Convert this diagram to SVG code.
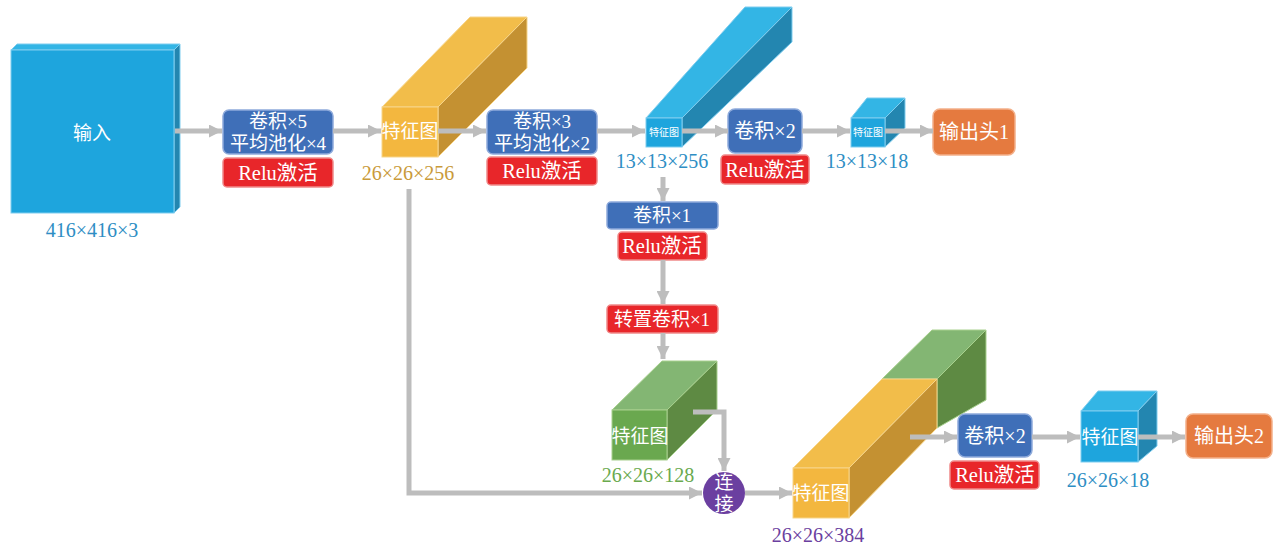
<svg xmlns="http://www.w3.org/2000/svg" width="1276" height="547" viewBox="0 0 1276 547">
<defs>
<marker id="ah" viewBox="0 0 10 10" markerWidth="13" markerHeight="13" markerUnits="userSpaceOnUse" refX="10" refY="5" orient="auto">
<path d="M0,0 L10,5 L0,10 z" fill="#bdbdbd"/>
</marker>
<style>
text{font-family:"Liberation Serif","Noto Sans CJK SC",serif;text-anchor:middle}
.w{fill:#ffffff}
.bx{fill:#3f6fb8;stroke:#8eaadb;stroke-width:1.5}
.rd{fill:#e8262a;stroke:#f08a8a;stroke-width:1.5}
.or{fill:#e57a3f;stroke:#f3b08a;stroke-width:1.5}
.cn{fill:none;stroke:#bdbdbd;stroke-width:5}
.bf{fill:#1ea5dd;stroke:#7fcdef;stroke-width:1}
.bt{fill:#33b5e5;stroke:#7fcdef;stroke-width:1}
.bs{fill:#2386b0;stroke:#7fcdef;stroke-width:1}
.yf{fill:#f3b73f;stroke:#f7d58a;stroke-width:1}
.yt{fill:#f2bd4a;stroke:#f7d58a;stroke-width:1}
.ys{fill:#c49132;stroke:#f7d58a;stroke-width:1}
.gf{fill:#6aa84f;stroke:#a8d08e;stroke-width:1}
.gt{fill:#83b673;stroke:#a8d08e;stroke-width:1}
.gs{fill:#5e8a43;stroke:#a8d08e;stroke-width:1}
.lb{fill:#2e8ec4;font-size:20px}
.rl{font-size:20.5px;fill:#ffffff}
</style>
</defs>
<rect width="1276" height="547" fill="#ffffff"/>

<g id="input">
<polygon class="bt" points="11,50 17,44 180,44 174,50"/>
<polygon class="bs" points="174,50 180,44 180,207 174,213"/>
<rect class="bf" x="11" y="50" width="163" height="163"/>
<text class="w" x="92" y="140" font-size="19">输入</text>
<text class="lb" x="92" y="237">416×416×3</text>
</g>

<g id="box1">
<rect class="bx" x="223" y="110" width="110" height="44" rx="6"/>
<text class="w" x="278" y="128" font-size="19">卷积×5</text>
<text class="w" x="278" y="150" font-size="19">平均池化×4</text>
<rect class="rd" x="223" y="158" width="110" height="29" rx="4"/>
<text class="rl" x="278" y="180">Relu激活</text>
</g>

<g id="fmap1">
<polygon class="yt" points="382,107 470,17 527,17 438,107"/>
<polygon class="ys" points="438,107 527,17 527,68 438,157"/>
<rect class="yf" x="382" y="107" width="56" height="50"/>
<text class="w" x="410" y="138" font-size="19">特征图</text>
<text x="408" y="180" font-size="20" fill="#c99a3a">26×26×256</text>
</g>

<g id="box2">
<rect class="bx" x="487" y="110" width="110" height="44" rx="6"/>
<text class="w" x="542" y="128" font-size="19">卷积×3</text>
<text class="w" x="542" y="150" font-size="19">平均池化×2</text>
<rect class="rd" x="487" y="157" width="110" height="28" rx="4"/>
<text class="rl" x="542" y="178">Relu激活</text>
</g>

<g id="fmap2">
<polygon class="bt" points="646,118 745,7 792,7 682,118"/>
<polygon class="bs" points="682,118 792,7 792,42 682,147"/>
<rect class="bf" x="646" y="118" width="36" height="29"/>
<text class="w" x="664" y="136" font-size="10">特征图</text>
<text class="lb" x="662" y="168">13×13×256</text>
</g>

<g id="box3">
<rect class="bx" x="728" y="109" width="74" height="44" rx="7"/>
<text class="w" x="765" y="138" font-size="20">卷积×2</text>
<rect class="rd" x="721" y="155" width="88" height="29" rx="4"/>
<text class="rl" x="765" y="177">Relu激活</text>
</g>

<g id="fmap3">
<polygon class="bt" points="851,118 867,98 905,98 885,118"/>
<polygon class="bs" points="885,118 905,98 905,128 885,147"/>
<rect class="bf" x="851" y="118" width="34" height="29"/>
<text class="w" x="868" y="136" font-size="10">特征图</text>
<text class="lb" x="867" y="168">13×13×18</text>
</g>

<g id="out1">
<rect class="or" x="933" y="109" width="82" height="46" rx="7"/>
<text class="w" x="974" y="139" font-size="20">输出头1</text>
</g>

<g id="box4">
<rect class="bx" x="607" y="202" width="111" height="27" rx="4"/>
<text class="w" x="662" y="222" font-size="19">卷积×1</text>
<rect class="rd" x="618" y="232" width="89" height="28" rx="4"/>
<text class="rl" x="662" y="253">Relu激活</text>
</g>

<g id="box5">
<rect class="rd" x="607" y="305" width="111" height="28" rx="4"/>
<text class="w" x="662" y="326" font-size="19">转置卷积×1</text>
</g>

<g id="fmap4">
<polygon class="gt" points="612,410 662,361 717,361 667,410"/>
<polygon class="gs" points="667,410 717,361 717,410 667,460"/>
<rect class="gf" x="612" y="410" width="55" height="50"/>
<text class="w" x="640" y="443" font-size="19">特征图</text>
<text x="648" y="482" font-size="20" fill="#6aaa4e">26×26×128</text>
</g>

<g id="concat">
<circle cx="724" cy="493" r="21" fill="#6b3fa0"/>
<text class="w" x="724" y="489" font-size="19">连</text>
<text class="w" x="724" y="511" font-size="19">接</text>
</g>

<g id="fmap5">
<polygon class="gt" points="882,379 932,330 986,330 937,379"/>
<polygon class="gs" points="937,379 986,330 986,400 937,428"/>
<polygon class="yt" points="793,468 882,379 937,379 849,468"/>
<polygon class="ys" points="849,468 937,379 937,428 849,518"/>
<rect class="yf" x="793" y="468" width="56" height="50"/>
<text class="w" x="821" y="500" font-size="19">特征图</text>
<text x="818" y="542" font-size="20" fill="#6b3fa0">26×26×384</text>
</g>

<g id="box6">
<rect class="bx" x="958" y="414" width="74" height="43" rx="7"/>
<text class="w" x="995" y="443" font-size="20">卷积×2</text>
<rect class="rd" x="950" y="461" width="89" height="28" rx="4"/>
<text class="rl" x="995" y="482">Relu激活</text>
</g>

<g id="fmap6">
<polygon class="bt" points="1081,411 1098,391 1157,391 1138,411"/>
<polygon class="bs" points="1138,411 1157,391 1157,446 1138,462"/>
<rect class="bf" x="1081" y="411" width="57" height="51"/>
<text class="w" x="1110" y="444" font-size="19">特征图</text>
<text class="lb" x="1108" y="487">26×26×18</text>
</g>

<g id="out2">
<rect class="or" x="1186" y="414" width="86" height="44" rx="7"/>
<text class="w" x="1229" y="443" font-size="20">输出头2</text>
</g>

<g id="connectors">
<line class="cn" x1="175" y1="131" x2="222" y2="131" marker-end="url(#ah)"/>
<line class="cn" x1="333" y1="131" x2="381" y2="131" marker-end="url(#ah)"/>
<line class="cn" x1="438" y1="131" x2="486" y2="131" marker-end="url(#ah)"/>
<line class="cn" x1="597" y1="131" x2="645" y2="131" marker-end="url(#ah)"/>
<line class="cn" x1="682" y1="131" x2="728" y2="131" marker-end="url(#ah)"/>
<line class="cn" x1="802" y1="131" x2="850" y2="131" marker-end="url(#ah)"/>
<line class="cn" x1="885" y1="131" x2="933" y2="131" marker-end="url(#ah)"/>
<line class="cn" x1="663" y1="177" x2="663" y2="201" marker-end="url(#ah)"/>
<line class="cn" x1="663" y1="260" x2="663" y2="304" marker-end="url(#ah)"/>
<line class="cn" x1="663" y1="333" x2="663" y2="359" marker-end="url(#ah)"/>
<polyline class="cn" points="693,412 724,412 724,471" marker-end="url(#ah)"/>
<polyline class="cn" points="409,189 409,493 702,493" marker-end="url(#ah)"/>
<line class="cn" x1="745" y1="493" x2="792" y2="493" marker-end="url(#ah)"/>
<line class="cn" x1="910" y1="437" x2="957" y2="437" marker-end="url(#ah)"/>
<line class="cn" x1="1032" y1="437" x2="1080" y2="437" marker-end="url(#ah)"/>
<line class="cn" x1="1138" y1="437" x2="1185" y2="437" marker-end="url(#ah)"/>
</g>
</svg>
